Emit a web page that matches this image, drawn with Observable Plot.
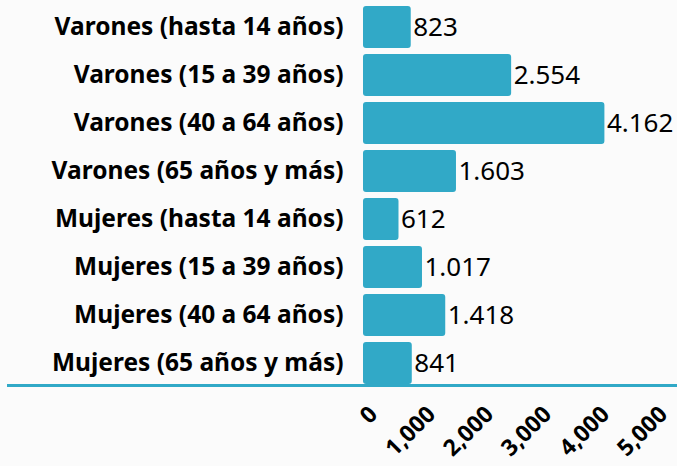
<!DOCTYPE html>
<html><head><meta charset="utf-8">
<script src="https://cdn.jsdelivr.net/npm/d3@7"></script>
<script src="https://cdn.jsdelivr.net/npm/@observablehq/plot@0.6"></script>
<style>
body{margin:0;background:#fbfbfb;}
</style></head>
<body><div id="chart"></div>
<script>
const categories = [
  "Varones (hasta 14 años)",
  "Varones (15 a 39 años)",
  "Varones (40 a 64 años)",
  "Varones (65 años y más)",
  "Mujeres (hasta 14 años)",
  "Mujeres (15 a 39 años)",
  "Mujeres (40 a 64 años)",
  "Mujeres (65 años y más)"
];
const values = [823, 2554, 4162, 1603, 612, 1017, 1418, 841];
const xTicks = [0, 1000, 2000, 3000, 4000, 5000];

const data = categories.map((c, i) => ({cat: c, v: values[i]}));
const fmtEs = v => d3.format(",")(v).replace(/,/g, ".");
const color = "#31a9c7";

const chart = Plot.plot({
  width: 677, height: 466,
  marginLeft: 363, marginRight: 24, marginTop: 5, marginBottom: 81,
  style: {fontFamily: "'Noto Sans', sans-serif", background: "#fbfbfb", color: "#000"},
  x: {domain: [0, 5000], ticks: xTicks},
  y: {domain: categories, paddingInner: 0.13, paddingOuter: 0},
  marks: [
    Plot.barX(data, {x: "v", y: "cat", fill: color, rx: 3}),
    Plot.text(data, {x: "v", y: "cat", text: d => fmtEs(d.v), textAnchor: "start", dx: 2, fontSize: 26, fill: "#000"}),
    Plot.axisY({tickSize: 0, tickPadding: 20, fontSize: 24.5, fontWeight: "bold", label: null}),
    Plot.axisX({ticks: xTicks, tickFormat: d3.format(","), tickSize: 0, tickRotate: -45, fontSize: 23, fontWeight: "bold", label: null, tickPadding: 25, dx: 10}),
    Plot.frame({anchor: "bottom", stroke: color, strokeWidth: 3, className: "baseline"})
  ]
});
document.getElementById("chart").appendChild(chart);
const bl = chart.querySelector(".baseline");
if (bl) {
  const ln = bl.tagName === "line" ? bl : bl.querySelector("line");
  if (ln) { ln.setAttribute("x1", 8); ln.setAttribute("x2", 677); }
}
</script></body></html>
